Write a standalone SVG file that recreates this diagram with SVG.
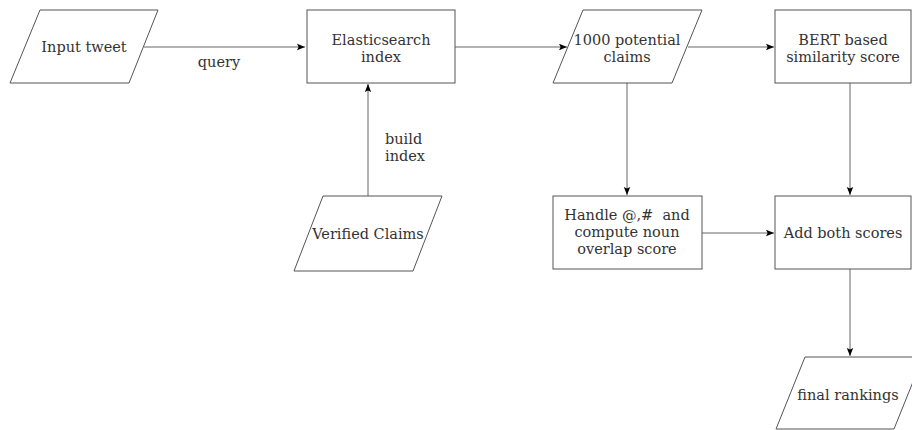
<svg xmlns="http://www.w3.org/2000/svg" width="912" height="430" viewBox="0 0 912 430">
<defs>
<marker id="arr" viewBox="0 0 10 10" refX="10" refY="5" markerWidth="8" markerHeight="8" markerUnits="userSpaceOnUse" orient="auto">
<path d="M0,1 L10,5 L0,9 L2,5 Z" fill="#000"/>
</marker>
</defs>
<style>
.n{fill:#fff;stroke:#555;stroke-width:1}
.c{fill:none;stroke:#666;stroke-width:1;marker-end:url(#arr)}
text{font-family:"DejaVu Serif","Liberation Serif",serif;font-size:14.5px;fill:#333;text-anchor:middle}
.l{text-anchor:start}
</style>
<rect width="912" height="430" fill="#fff"/>
<g id="connectors">
<path class="c" d="M144,47 L305,47"/>
<path class="c" d="M455,47 L567,47"/>
<path class="c" d="M688,47 L774,47"/>
<path class="c" d="M368,196 L368,84"/>
<path class="c" d="M627,83 L627,195"/>
<path class="c" d="M850,83 L850,195"/>
<path class="c" d="M702,233 L774,233"/>
<path class="c" d="M850,269 L850,356"/>
<text x="219" y="67">query</text>
<text class="l" x="385" y="144">build</text>
<text class="l" x="385" y="161">index</text>
</g>
<g id="input-tweet">
<path class="n" d="M40,10 L158,10 L129,83 L10,83 Z"/>
<text x="84" y="52">Input tweet</text>
</g>
<g id="elasticsearch">
<rect class="n" x="307" y="10" width="148" height="73"/>
<text x="381" y="45">Elasticsearch</text>
<text x="381" y="62">index</text>
</g>
<g id="potential-claims">
<path class="n" d="M583,10 L702,10 L672,83 L553,83 Z"/>
<text x="627" y="45">1000 potential</text>
<text x="627" y="62">claims</text>
</g>
<g id="bert">
<rect class="n" x="775" y="10" width="136" height="73"/>
<text x="843" y="45">BERT based</text>
<text x="843" y="62">similarity score</text>
</g>
<g id="verified-claims">
<path class="n" d="M323,196 L442,196 L413,271 L294,271 Z"/>
<text x="368" y="239">Verified Claims</text>
</g>
<g id="handle">
<rect class="n" x="553" y="196" width="149" height="73"/>
<text x="627" y="220" xml:space="preserve">Handle @,#  and</text>
<text x="627" y="237">compute noun</text>
<text x="627" y="254">overlap score</text>
</g>
<g id="add-scores">
<rect class="n" x="775" y="196" width="136" height="73"/>
<text x="843" y="238">Add both scores</text>
</g>
<g id="final-rankings">
<path class="n" d="M805,357 L923,357 L894,429 L776,429 Z"/>
<text x="848" y="400">final rankings</text>
</g>
</svg>
